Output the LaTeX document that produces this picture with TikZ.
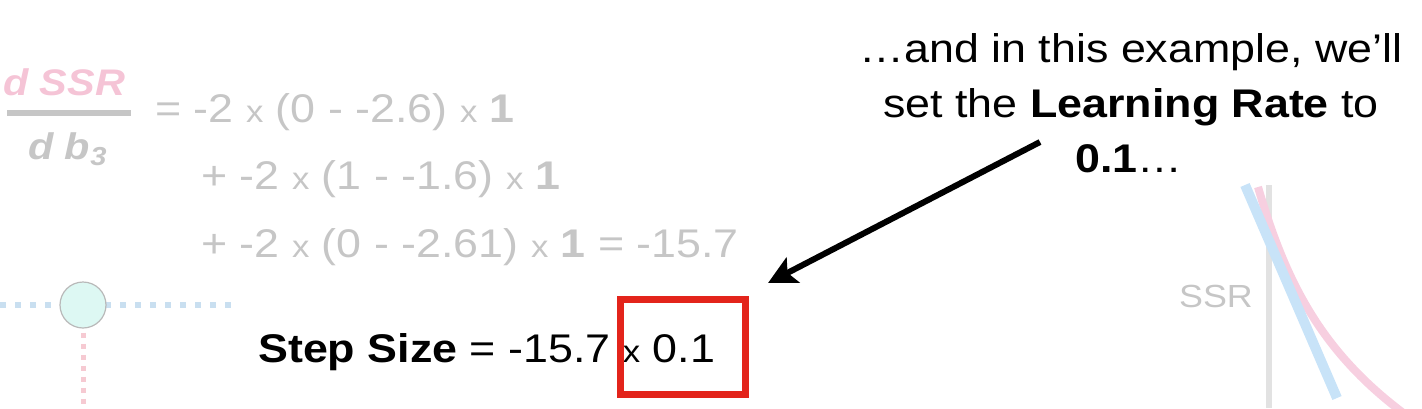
\documentclass[tikz,border=0pt]{standalone}
\usepackage{fontspec}
\setmainfont{Liberation Sans}[FakeStretch=1.12]
\usetikzlibrary{arrows.meta}
\definecolor{lgray}{HTML}{C6C6C6}
\definecolor{pinkt}{HTML}{F5C4D6}
\definecolor{redbox}{HTML}{E3241B}
\definecolor{bluedot}{HTML}{C9DFF0}
\definecolor{pinkdot}{HTML}{F6CAD2}
\definecolor{cyanfill}{HTML}{DDF8F3}
\definecolor{axisgray}{HTML}{E2E2E2}
\definecolor{blueln}{HTML}{C8E3F8}
\definecolor{pinkln}{HTML}{F7CFE0}
\newcommand\bigfont{\fontsize{40}{48}\selectfont}
\newcommand\smx{{\fontsize{31}{33}\selectfont x}}
\begin{document}
\begin{tikzpicture}[x=1pt,y=-1pt,
  txt/.style={inner sep=0pt, anchor=base west, font=\bigfont},
  ctxt/.style={inner sep=0pt, anchor=base, font=\bigfont}]
\useasboundingbox (0,0) rectangle (1422,408);

% right plot
\coordinate (axtop) at (1269,185);
\coordinate (axbot) at (1269,408);
\draw[axisgray, line width=6pt] (axtop) -- (axbot);
\coordinate (pk0) at (1258,187);
\coordinate (pk1) at (1402,412);
\draw[pinkln, line width=8pt] (pk0) .. controls (1285,280) and (1320,350) .. (pk1);
\coordinate (bl0) at (1245,185);
\coordinate (bl1) at (1337,398);
\draw[blueln, line width=10pt] (bl0) -- (bl1);
\node[inner sep=0pt, anchor=base east, text=lgray, font=\fontsize{32}{36}\selectfont] (ssr) at (1253,307) {SSR};

% network fragment
\coordinate (hl0) at (0,305);
\coordinate (hl1) at (234,305);
\draw[bluedot, line width=6pt, dash pattern=on 6pt off 9pt] (hl0) -- (hl1);
\node[circle, minimum size=46pt, inner sep=0pt, fill=cyanfill, draw=gray!55, line width=1.2pt] (nd) at (83,305) {};
\coordinate (vl1) at (83,410);
\draw[pinkdot, line width=5pt, dash pattern=on 5pt off 6pt] ([yshift=-4pt]nd.south) -- (vl1);

% derivative
\node[txt, text=pinkt, font=\fontsize{37}{40}\selectfont] (num) at (3,95) {\textbf{\textit{d SSR}}};
\coordinate (bar0) at (7,113);
\coordinate (bar1) at (131,113);
\draw[lgray, line width=6pt] (bar0) -- (bar1);
\node[txt, text=lgray, font=\fontsize{37}{40}\selectfont] (den) at (28,159) {\textbf{\textit{d b}}\raisebox{-6pt}{\fontsize{26}{28}\selectfont\textbf{\textit{3}}}};

\node[txt, text=lgray] (r1) at (155,122) {= -2 \smx{} (0 - -2.6) \smx{} \textbf{1}};
\node[txt, text=lgray] (r2) at (201,189) {+ -2 \smx{} (1 - -1.6) \smx{} \textbf{1}};
\node[txt, text=lgray] (r3) at (201,257) {+ -2 \smx{} (0 - -2.61) \smx{} \textbf{1} = -15.7};

% step size
\node[txt] (step) at (258,362) {\textbf{Step Size} = -15.7 \smx{} 0.1};
\coordinate (rb0) at (620,299);
\coordinate (rb1) at (745,394);
\draw[redbox, line width=7pt] (rb0) rectangle (rb1);

% callout
\node[ctxt] (c1) at (1131,62) {…and in this example, we'll};
\node[ctxt] (c2) at (1131,117) {set the \textbf{Learning Rate} to};
\node[ctxt] (c3) at (1129,172) {\textbf{0.1}…};
\coordinate (as) at (1040,142);
\coordinate (ae) at (768,283);
\draw[line width=6pt, -{Stealth[length=28pt,width=28pt,inset=6pt]}] (as) -- (ae);
\end{tikzpicture}
\end{document}
